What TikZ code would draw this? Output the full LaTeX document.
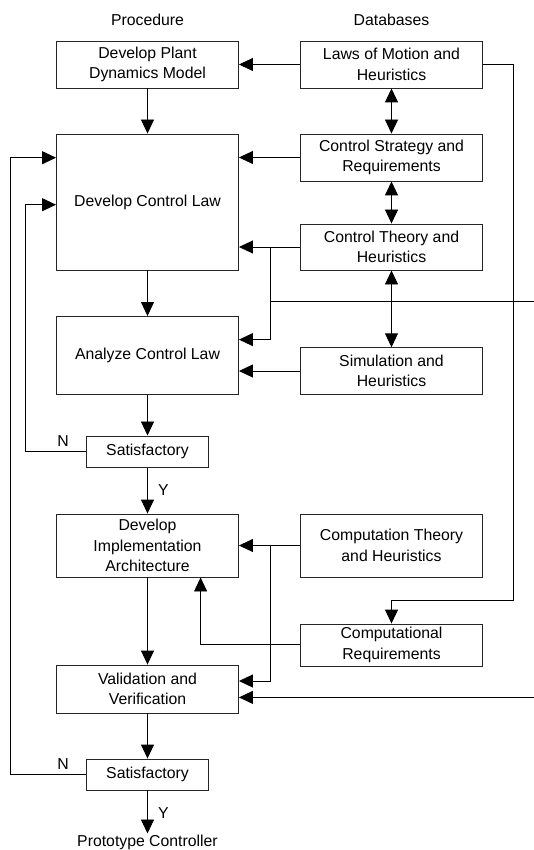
\documentclass[tikz,border=0pt]{standalone}
\usepackage{fontspec}
\setmainfont{Liberation Sans}
\usetikzlibrary{arrows.meta}
\begin{document}
\begin{tikzpicture}[x=1pt,y=-1pt,
  every node/.style={font=\fontsize{15.8}{20.5}\selectfont},
  box/.style={draw=black!85,line width=0.9pt,rectangle,inner sep=0pt,align=center,minimum width=182pt},
  smallbox/.style={box,minimum width=122pt},
  lbl/.style={inner sep=0pt},
  conn/.style={draw=black,line width=0.9pt},
  arr/.style={conn,-{Triangle[length=14pt,width=13pt]}},
  darr/.style={conn,{Triangle[length=14pt,width=13pt]}-{Triangle[length=14pt,width=13pt]}}
]
\useasboundingbox (0,0) rectangle (534,850);

% headings
\node[lbl] (hproc) at (147.5,19.5) {Procedure};
\node[lbl] (hdb) at (391.5,19.5) {Databases};

% procedure column
\node[box,minimum height=47pt] (plant) at (147.5,64.5) {Develop Plant\\Dynamics Model};
\node[box,minimum height=136pt] (claw) at (147.5,202) {Develop Control Law};
\node[box,minimum height=78pt] (analyze) at (147.5,355.5) {Analyze Control Law};
\node[smallbox,minimum height=31.5pt] (sat1) at (147.5,451.7) {Satisfactory};
\node[box,minimum height=63pt] (impl) at (147.5,545.5) {Develop\\Implementation\\Architecture};
\node[box,minimum height=48pt] (valid) at (147.5,689) {Validation and\\Verification};
\node[smallbox,minimum height=31pt] (sat2) at (147.5,774.5) {Satisfactory};
\node[lbl,anchor=north] (proto) at (147.5,834.5) {Prototype Controller};

% database column
\node[box,minimum height=47pt] (laws) at (391.5,64.5) {Laws of Motion and\\Heuristics};
\node[box,minimum height=47pt] (strat) at (391.5,157.5) {Control Strategy and\\Requirements};
\node[box,minimum height=46pt] (theory) at (391.5,247) {Control Theory and\\Heuristics};
\node[box,minimum height=46.5pt] (sim) at (391.5,371) {Simulation and\\Heuristics};
\node[box,minimum height=63pt] (ctheory) at (391.5,545.5) {Computation Theory\\and Heuristics};
\node[box,minimum height=42pt] (creq) at (391.5,645) {Computational\\Requirements};

% labels
\node[lbl] (n1) at (63,441) {N};
\node[lbl] (y1) at (163.5,490.5) {Y};
\node[lbl] (n2) at (63,764.5) {N};
\node[lbl] (y2) at (163.5,813) {Y};

% coordinates
\coordinate (b1) at (270,247);
\coordinate (b1a) at (270,301);
\coordinate (e1) at (534,301);
\coordinate (b2) at (270,545.5);
\coordinate (e2) at (534,697.4);
\coordinate (r1) at (513.3,64.5);
\coordinate (r2) at (513.3,600.3);
\coordinate (r3) at (391.5,600.3);
\coordinate (l1) at (25.5,451.7);
\coordinate (l2) at (25.5,204.7);
\coordinate (k1) at (10.2,774.5);
\coordinate (k2) at (10.2,157.7);
\coordinate (c1) at (200.6,644);

% vertical flow
\draw[arr] (plant.south) -- (claw.north);
\draw[arr] (claw.south) -- (analyze.north);
\draw[arr] (analyze.south) -- (sat1.north);
\draw[arr] (sat1.south) -- (impl.north);
\draw[arr] (impl.south) -- (valid.north);
\draw[arr] (valid.south) -- (sat2.north);
\draw[arr,shorten >=1pt] (sat2.south) -- (proto.north);

% database to procedure
\draw[arr] (laws.west) -- (plant.east);
\draw[arr] (strat.west) -- (strat.west -| claw.east);
\draw[arr] (theory.west) -- (theory.west -| claw.east);
\draw[arr] (b1) -- (270,339.6) -- (claw.east |- 0,339.6);
\draw[conn] (b1a) -- (e1);
\draw[arr] (sim.west) -- (sim.west -| analyze.east);
\draw[arr] (ctheory.west) -- (ctheory.west -| impl.east);
\draw[arr] (b2) -- (270,681) -- (valid.east |- 0,681);
\draw[arr] (e2) -- (valid.east |- e2);
\draw[arr] (creq.west |- c1) -- (c1) -- (c1 |- impl.south);
\draw[arr] (laws.east |- r1) -- (r1) -- (r2) -- (r3) -- (creq.north);

% double arrows
\draw[darr] (laws.south) -- (strat.north);
\draw[darr] (strat.south) -- (theory.north);
\draw[darr] (theory.south) -- (sim.north);

% feedback loops
\draw[arr] (sat1.west) -- (l1) -- (l2) -- (claw.west |- l2);
\draw[arr] (sat2.west) -- (k1) -- (k2) -- (claw.west |- k2);
\end{tikzpicture}
\end{document}
